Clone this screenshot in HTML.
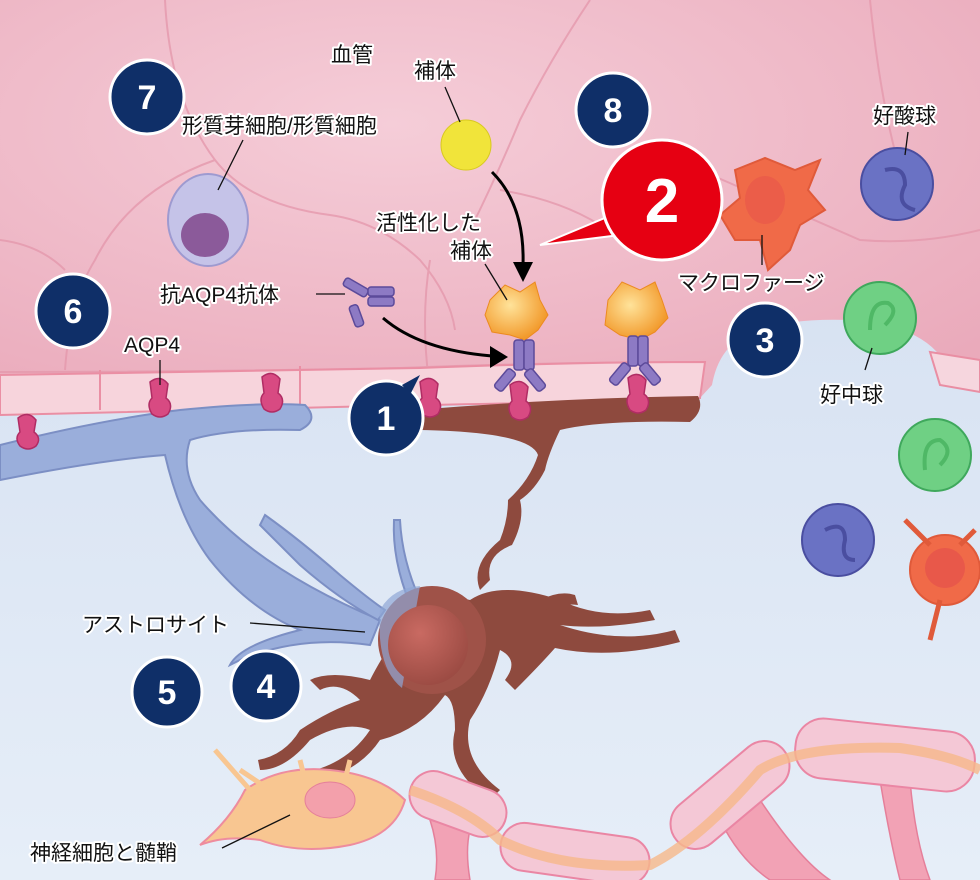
<!DOCTYPE html>
<html><head><meta charset="utf-8"><style>
html,body{margin:0;padding:0;background:#e2ebf6}
svg{display:block}
text{font-family:"Liberation Sans","Noto Sans CJK JP",sans-serif;}
.lb{font-size:21px;fill:#111;stroke:#fff;stroke-width:4px;paint-order:stroke;stroke-linejoin:round}
.num{font-size:34px;font-weight:bold;fill:#fff;text-anchor:middle}
</style></head><body>
<svg width="980" height="880" viewBox="0 0 980 880" xmlns="http://www.w3.org/2000/svg">
<defs>
<radialGradient id="pk" cx="0.4" cy="0.3" r="0.8"><stop offset="0" stop-color="#f5cdd8"/><stop offset="1" stop-color="#eaaabb"/></radialGradient>
<linearGradient id="bl" x1="0" y1="0" x2="0" y2="1"><stop offset="0" stop-color="#d0dcef"/><stop offset="1" stop-color="#e6eef8"/></linearGradient>
<radialGradient id="nuc" cx="0.4" cy="0.35" r="0.7"><stop offset="0" stop-color="#c96a62"/><stop offset="1" stop-color="#9a4a42"/></radialGradient>
<radialGradient id="og" cx="0.4" cy="0.4" r="0.6"><stop offset="0" stop-color="#ffe39a"/><stop offset="1" stop-color="#f29a2c"/></radialGradient>
</defs>
<rect width="980" height="880" fill="url(#bl)"/>
<path d="M0 0H980V362L940 356Q925 335 880 322Q800 315 760 330Q720 340 712 385L700 398Q550 403 420 405L0 415Z" fill="url(#pk)"/>
<path d="M930 352L980 360V392L940 385Z" fill="#f6d6de" stroke="#e98ea3" stroke-width="2"/>
<g fill="none" stroke="#e599ad" stroke-width="2" opacity="0.8">
<path d="M165 0Q170 100 215 160Q250 205 330 215Q380 222 420 260Q450 295 455 330"/>
<path d="M215 160Q130 190 95 260Q70 300 65 370"/>
<path d="M0 240Q40 245 65 270"/>
<path d="M590 0Q550 60 520 120Q495 180 470 230"/>
<path d="M500 190Q560 200 600 225"/>
<path d="M700 170Q780 205 860 240Q920 245 980 230"/>
<path d="M870 0Q880 100 900 170"/>
<path d="M430 260Q420 320 430 390"/>
<path d="M0 372Q200 372 400 368Q560 362 700 362"/>
</g>
<path d="M0 375Q200 372 420 368Q580 362 705 362L700 398Q550 403 420 405L0 415Z" fill="#f7d4dc" stroke="#ea8fa4" stroke-width="2"/>
<path d="M100 370V410M300 366V405" stroke="#ea8fa4" stroke-width="2"/>
<g fill="#9aaedb" stroke="#7c8fc4" stroke-width="2">
<path d="M0 445Q100 420 180 410Q260 402 305 405Q320 420 300 430Q230 428 190 440Q180 470 200 500Q260 570 380 620L370 645Q300 635 240 660L230 665Q240 645 300 630Q250 610 210 560Q180 520 165 455Q100 460 0 480Z"/>
<path d="M265 515Q300 540 340 575Q370 600 385 610L378 620Q340 600 300 565Q280 545 260 525Z"/>
<path d="M400 520Q402 560 420 600L410 604Q392 560 394 520Z"/>
</g>
<g fill="#8e4a3e">
<path d="M415 410Q560 398 698 396Q705 410 690 422Q600 420 560 430Q548 455 545 470Q535 490 520 500Q525 520 512 545Q485 555 490 580L480 590Q470 565 500 540Q508 520 508 500Q530 480 538 455Q530 432 420 430Q400 425 415 410Z"/>
<path d="M470 600Q500 580 560 600Q600 620 650 610L655 620Q600 630 560 625Q620 645 675 630L680 642Q610 660 555 648Q540 665 515 690L505 680Q520 660 500 650Q490 690 470 720Q460 760 500 790L490 800Q445 770 455 730Q455 700 445 695Q420 730 380 740Q360 770 320 780L315 770Q350 760 370 730Q345 720 310 740Q285 770 260 770L258 760Q285 755 300 730Q330 710 360 700Q340 680 320 690L310 680Q330 670 370 680Q380 660 400 630Q430 590 470 600Z"/>
<path d="M540 600Q560 590 575 595L578 605Q560 603 545 610Z"/>
</g>
<circle cx="432" cy="640" r="54" fill="#9f5248"/>
<path d="M380 610Q392 588 420 586L402 688Q376 668 380 610Z" fill="#8ea6d6" opacity="0.7"/>
<circle cx="428" cy="645" r="40" fill="url(#nuc)"/>
<g fill="#f2a2b5" stroke="#e57f9a" stroke-width="1.5">
<path d="M430 820Q440 850 435 880H470Q465 850 470 830Z"/>
<path d="M720 820Q740 860 770 880H830Q800 860 760 800Z"/>
<path d="M880 780Q890 840 900 880H930Q915 840 910 780Z"/>
</g>
<path d="M245 790Q280 765 330 770Q380 775 405 800Q395 835 350 845Q300 855 260 840Q225 835 200 845Q230 820 245 790Z" fill="#f8c691" stroke="#ee8c9e" stroke-width="2"/>
<path d="M240 770L270 790M300 760L305 780M350 760L345 780M215 750L250 790" stroke="#f8c691" stroke-width="5"/>
<ellipse cx="330" cy="800" rx="25" ry="18" fill="#f3a0ab" stroke="#e57f9a"/>
<g fill="#f4c8d6" stroke="#ea86a4" stroke-width="2">
<rect x="408" y="780" width="100" height="48" rx="24" transform="rotate(20 458 804)"/>
<rect x="500" y="830" width="150" height="48" rx="24" transform="rotate(8 575 854)"/>
<rect x="660" y="770" width="140" height="50" rx="25" transform="rotate(-40 730 795)"/>
<rect x="795" y="725" width="180" height="60" rx="28" transform="rotate(6 885 755)"/>
</g>
<path d="M410 790Q470 810 500 840Q560 870 650 865Q700 840 760 770Q800 745 900 748Q950 755 980 770" fill="none" stroke="#f6b88a" stroke-width="10" opacity="0.8"/>
<ellipse cx="208" cy="220" rx="40" ry="46" fill="#c5c3e8" stroke="#9e9ad0" stroke-width="2"/>
<ellipse cx="205" cy="235" rx="24" ry="22" fill="#8b5a9a"/>
<circle cx="466" cy="145" r="25" fill="#f1e43a" stroke="#d8c820"/>
<g fill="#f06a48" stroke="#e05a3a" stroke-width="2">
<path d="M735 170L765 158L795 170L820 160L808 190L825 210L800 225L790 250L768 270L760 240L735 240L720 215L740 198Z"/>
<circle cx="945" cy="570" r="35"/>
<path d="M905 520L930 545M930 640L940 600M975 530L960 545" stroke-width="5"/>
</g>
<ellipse cx="765" cy="200" rx="20" ry="24" fill="#e8584a" opacity="0.7"/>
<circle cx="945" cy="568" r="20" fill="#e8584a"/>
<g fill="#6a72c4" stroke="#4a4ea0" stroke-width="2">
<circle cx="897" cy="184" r="36"/><circle cx="838" cy="540" r="36"/>
</g>
<g fill="none" stroke="#4a4ea0" stroke-width="4"><path d="M885 170Q905 165 905 185Q895 205 915 210"/><path d="M825 530Q845 520 845 540Q840 560 855 560"/></g>
<g fill="#6fd084" stroke="#3fa85c" stroke-width="2">
<circle cx="880" cy="318" r="36"/><circle cx="935" cy="455" r="36"/>
</g>
<g fill="none" stroke="#4fb866" stroke-width="4"><path d="M870 330Q870 300 888 303Q900 310 885 325"/><path d="M925 470Q922 440 940 440Q955 450 940 465"/></g>
<g fill="url(#og)" stroke="#ec8a20">
<path d="M490 300L505 285L520 292L535 282L540 300L548 315L538 330L525 340L510 335L492 332L485 315Z"/>
<path d="M608 300L622 282L640 290L655 282L662 300L668 318L655 332L640 340L620 335L605 325Z"/>
</g>
<g fill="#8d7ac4" stroke="#5c4a9a" stroke-width="1.5">
<rect x="514" y="340" width="10" height="30" rx="3"/><rect x="524" y="340" width="10" height="30" rx="3"/>
<rect x="500" y="368" width="10" height="24" rx="3" transform="rotate(40 505 380)"/>
<rect x="530" y="368" width="10" height="24" rx="3" transform="rotate(-40 535 380)"/>
<rect x="628" y="336" width="10" height="30" rx="3"/><rect x="638" y="336" width="10" height="30" rx="3"/>
<rect x="615" y="362" width="10" height="24" rx="3" transform="rotate(40 620 374)"/>
<rect x="645" y="362" width="10" height="24" rx="3" transform="rotate(-40 650 374)"/>
<rect x="343" y="283" width="26" height="9" rx="3" transform="rotate(30 356 287)"/>
<rect x="368" y="287" width="26" height="9" rx="3"/><rect x="368" y="297" width="26" height="9" rx="3"/>
<rect x="352" y="305" width="9" height="22" rx="3" transform="rotate(-20 356 316)"/>
</g>
<g fill="#d84a82" stroke="#b02c64" stroke-width="1.5">
<path d="M18 418q10-8 18 2l-2 12q8 6 2 14q-8 6-16 0q-6-8 0-14z"/>
<path d="M150 382q10-8 18 2l-2 14q8 6 2 16q-8 6-16 0q-6-10 0-16z"/>
<path d="M262 377q10-8 18 2l-2 14q8 6 2 16q-8 6-16 0q-6-10 0-16z"/>
<path d="M420 382q10-8 18 2l-2 14q8 6 2 16q-8 6-16 0q-6-10 0-16z"/>
<path d="M510 385q10-8 18 2l-2 14q8 6 2 16q-8 6-16 0q-6-10 0-16z"/>
<path d="M628 378q10-8 18 2l-2 14q8 6 2 16q-8 6-16 0q-6-10 0-16z"/>
</g>
<g fill="none" stroke="#000" stroke-width="3">
<path d="M492 172Q525 205 523 265"/>
<path d="M383 318Q420 350 492 356"/>
</g>
<path d="M513 262L533 262L523 282Z"/><path d="M490 346L508 357L490 368Z"/>
<g stroke="#111" stroke-width="1.3">
<line x1="445" y1="87" x2="460" y2="122"/><line x1="243" y1="140" x2="218" y2="190"/>
<line x1="485" y1="264" x2="507" y2="300"/><line x1="316" y1="294" x2="345" y2="294"/>
<line x1="160" y1="360" x2="160" y2="385"/><line x1="762" y1="235" x2="762" y2="265"/>
<line x1="908" y1="132" x2="905" y2="155"/><line x1="872" y1="348" x2="865" y2="370"/>
<line x1="250" y1="623" x2="365" y2="632"/><line x1="222" y1="848" x2="290" y2="815"/>
</g>
<g fill="#0f2f68" stroke="#fff" stroke-width="3">
<circle cx="147" cy="97" r="37"/><circle cx="613" cy="110" r="37"/><circle cx="73" cy="311" r="37"/>
<circle cx="765" cy="340" r="37"/><circle cx="386" cy="418" r="37"/><circle cx="167" cy="692" r="35"/><circle cx="266" cy="686" r="35"/>
</g>
<path d="M402 385L420 375L410 395Z" fill="#0f2f68"/>
<path d="M540 245L612 215L620 235Z" fill="#e60012" stroke="#fff" stroke-width="2"/>
<circle cx="662" cy="200" r="60" fill="#e60012" stroke="#fff" stroke-width="3"/>
<text class="num" x="147" y="109">7</text><text class="num" x="613" y="122">8</text><text class="num" x="73" y="323">6</text>
<text class="num" x="765" y="352">3</text><text class="num" x="386" y="430">1</text><text class="num" x="167" y="704">5</text><text class="num" x="266" y="698">4</text>
<text class="num" x="662" y="222" style="font-size:62px">2</text>
<text class="lb" x="331" y="62">血管</text>
<text class="lb" x="414" y="78">補体</text>
<text class="lb" x="182" y="133">形質芽細胞/形質細胞</text>
<text class="lb" x="376" y="230">活性化した</text>
<text class="lb" x="450" y="258">補体</text>
<text class="lb" x="160" y="302">抗AQP4抗体</text>
<text class="lb" x="124" y="352">AQP4</text>
<text class="lb" x="678" y="290">マクロファージ</text>
<text class="lb" x="873" y="123">好酸球</text>
<text class="lb" x="820" y="402">好中球</text>
<text class="lb" x="82" y="632">アストロサイト</text>
<text class="lb" x="30" y="860">神経細胞と髄鞘</text>
</svg>
</body></html>
